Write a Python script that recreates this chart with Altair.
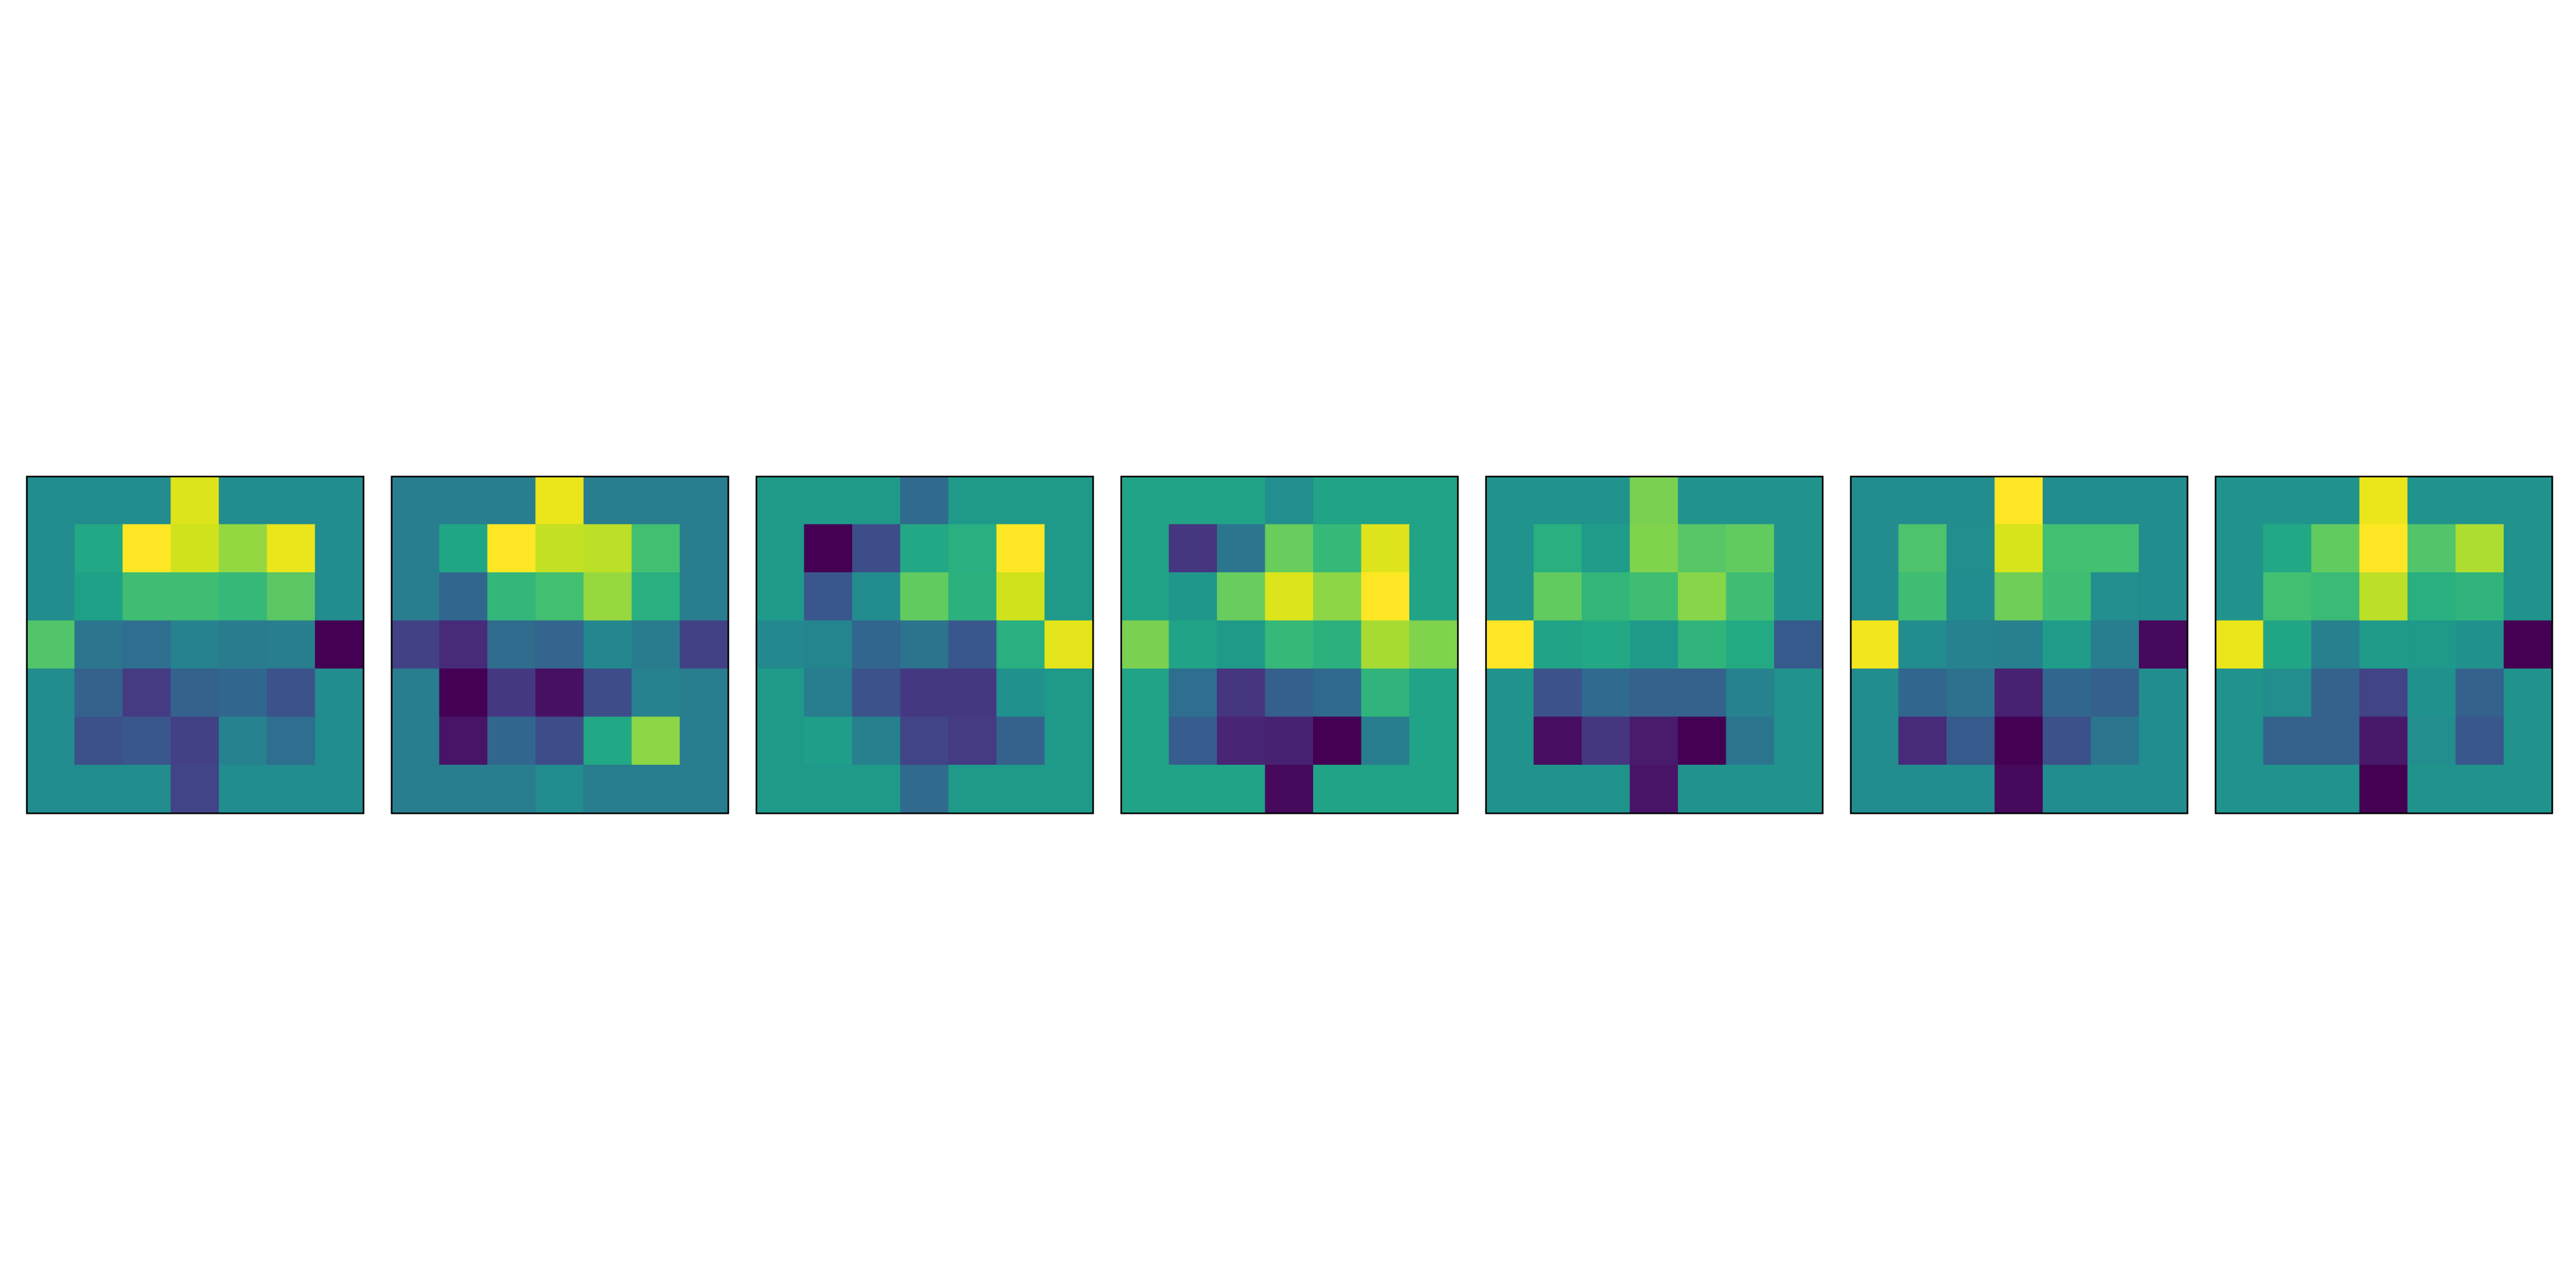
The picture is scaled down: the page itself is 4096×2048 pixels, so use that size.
import altair as alt
import pandas as pd

# Values read as viridis positions (0 = dark purple, 1 = yellow), rows top to bottom
panel1 = [
    [0.48, 0.48, 0.48, 0.95, 0.48, 0.48, 0.48],
    [0.48, 0.60, 1.00, 0.93, 0.84, 0.97, 0.48],
    [0.48, 0.57, 0.69, 0.69, 0.67, 0.745, 0.48],
    [0.73, 0.39, 0.36, 0.44, 0.41, 0.42, 0.00],
    [0.48, 0.31, 0.17, 0.31, 0.33, 0.25, 0.48],
    [0.48, 0.24, 0.27, 0.19, 0.44, 0.36, 0.48],
    [0.48, 0.48, 0.48, 0.20, 0.48, 0.48, 0.48],
]
panel2 = [
    [0.42, 0.42, 0.42, 0.97, 0.42, 0.42, 0.42],
    [0.42, 0.59, 1.00, 0.91, 0.90, 0.70, 0.42],
    [0.42, 0.33, 0.66, 0.70, 0.845, 0.63, 0.42],
    [0.19, 0.12, 0.35, 0.32, 0.46, 0.41, 0.19],
    [0.42, 0.00, 0.16, 0.04, 0.23, 0.44, 0.42],
    [0.42, 0.05, 0.33, 0.23, 0.60, 0.83, 0.42],
    [0.42, 0.42, 0.42, 0.48, 0.42, 0.42, 0.42],
]
panel3 = [
    [0.54, 0.54, 0.54, 0.34, 0.54, 0.54, 0.54],
    [0.54, 0.00, 0.23, 0.60, 0.63, 1.00, 0.54],
    [0.54, 0.27, 0.48, 0.76, 0.64, 0.93, 0.54],
    [0.47, 0.45, 0.33, 0.38, 0.27, 0.63, 0.96],
    [0.54, 0.42, 0.25, 0.16, 0.16, 0.50, 0.54],
    [0.54, 0.56, 0.43, 0.20, 0.17, 0.31, 0.54],
    [0.54, 0.54, 0.54, 0.34, 0.54, 0.54, 0.54],
]
panel4 = [
    [0.58, 0.58, 0.58, 0.49, 0.58, 0.58, 0.58],
    [0.58, 0.15, 0.39, 0.77, 0.67, 0.95, 0.58],
    [0.58, 0.53, 0.77, 0.95, 0.83, 1.00, 0.58],
    [0.80, 0.58, 0.54, 0.67, 0.64, 0.87, 0.81],
    [0.58, 0.36, 0.15, 0.30, 0.34, 0.65, 0.58],
    [0.58, 0.29, 0.10, 0.09, 0.00, 0.42, 0.58],
    [0.58, 0.58, 0.58, 0.02, 0.58, 0.58, 0.58],
]
panel5 = [
    [0.51, 0.51, 0.51, 0.80, 0.51, 0.51, 0.51],
    [0.51, 0.63, 0.55, 0.81, 0.74, 0.76, 0.51],
    [0.51, 0.76, 0.66, 0.69, 0.82, 0.69, 0.51],
    [1.00, 0.58, 0.60, 0.54, 0.65, 0.61, 0.28],
    [0.51, 0.25, 0.34, 0.31, 0.31, 0.44, 0.51],
    [0.51, 0.03, 0.15, 0.07, 0.00, 0.39, 0.51],
    [0.51, 0.51, 0.51, 0.05, 0.51, 0.51, 0.51],
]
panel6 = [
    [0.48, 0.48, 0.48, 1.00, 0.48, 0.48, 0.48],
    [0.48, 0.72, 0.49, 0.94, 0.70, 0.70, 0.48],
    [0.48, 0.69, 0.48, 0.78, 0.69, 0.49, 0.48],
    [0.98, 0.48, 0.44, 0.43, 0.55, 0.42, 0.02],
    [0.48, 0.33, 0.37, 0.09, 0.33, 0.30, 0.48],
    [0.48, 0.12, 0.28, 0.00, 0.24, 0.39, 0.48],
    [0.48, 0.48, 0.48, 0.02, 0.48, 0.48, 0.48],
]
panel7 = [
    [0.51, 0.51, 0.51, 0.97, 0.51, 0.51, 0.51],
    [0.51, 0.60, 0.76, 1.00, 0.73, 0.88, 0.51],
    [0.51, 0.70, 0.68, 0.90, 0.63, 0.65, 0.51],
    [0.97, 0.59, 0.43, 0.54, 0.54, 0.50, 0.00],
    [0.51, 0.49, 0.31, 0.20, 0.50, 0.31, 0.51],
    [0.51, 0.31, 0.31, 0.06, 0.49, 0.27, 0.51],
    [0.51, 0.51, 0.51, 0.00, 0.51, 0.51, 0.51],
]
panels = [panel1, panel2, panel3, panel4, panel5, panel6, panel7]

rows = []
for p, grid in enumerate(panels):
    for r, row in enumerate(grid):
        for c, v in enumerate(row):
            rows.append({"panel": p, "row": r, "col": c, "value": v})
df = pd.DataFrame(rows)

SIZE = 539
color_scale = alt.Scale(scheme="viridis", domain=[0, 1])

charts = []
for p in range(len(panels)):
    heat = (
        alt.Chart(df)
        .transform_filter(alt.datum.panel == p)
        .mark_rect(strokeWidth=1.6)
        .encode(
            x=alt.X("col:O", axis=None, scale=alt.Scale(paddingInner=0, paddingOuter=0)),
            y=alt.Y("row:O", axis=None, scale=alt.Scale(paddingInner=0, paddingOuter=0)),
            color=alt.Color("value:Q", scale=color_scale, legend=None),
            stroke=alt.Stroke("value:Q", scale=color_scale, legend=None),
        )
    )
    frame = (
        alt.Chart(df)
        .transform_filter((alt.datum.panel == p) & (alt.datum.row == 0) & (alt.datum.col == 0))
        .mark_rect(filled=False, stroke="black", strokeWidth=2.6)
        .encode(
            x=alt.value(0), x2=alt.value(SIZE),
            y=alt.value(0), y2=alt.value(SIZE),
        )
    )
    charts.append(alt.layer(heat, frame).properties(width=SIZE, height=SIZE))

chart = (
    alt.hconcat(*charts, spacing=41)
    .properties(padding={"left": 41, "top": 754, "right": 36, "bottom": 755}, background="white")
    .configure_view(strokeWidth=0)
)

chart.save("out.html", embed_options={"renderer": "svg", "actions": False})
